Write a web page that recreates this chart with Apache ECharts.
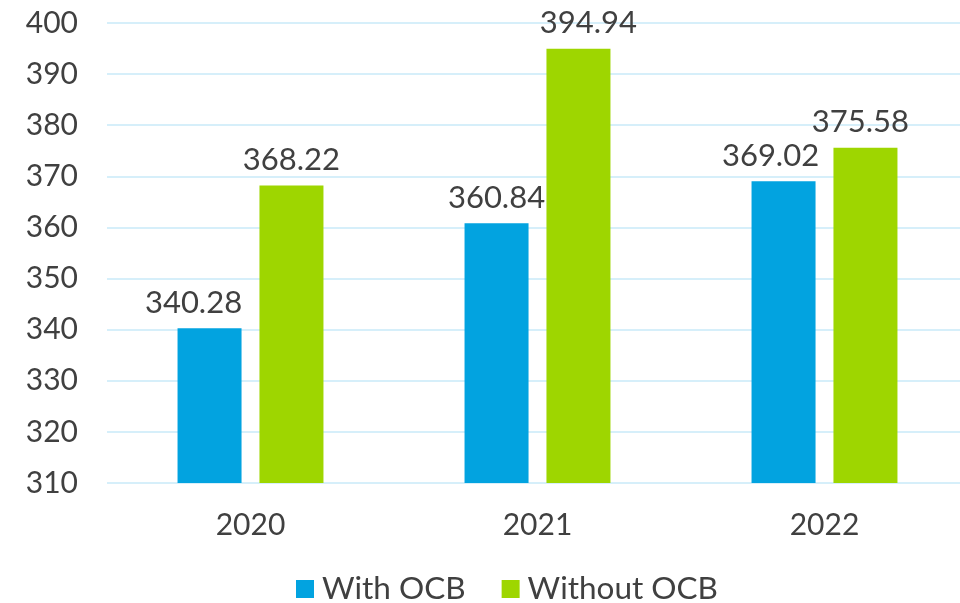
<!DOCTYPE html>
<html>
<head>
<meta charset="utf-8">
<script src="https://cdn.jsdelivr.net/npm/echarts@6/dist/echarts.min.js"></script>
<style>
  html, body { margin: 0; padding: 0; background: #fff; }
  #chart { width: 960px; height: 603px; }
</style>
</head>
<body>
<div id="chart"></div>
<script>
// data
var years = ['2020', '2021', '2022'];
var withOcb = [340.28, 360.84, 369.02];
var withoutOcb = [368.22, 394.94, 375.58];
var seriesNames = ['With OCB', 'Without OCB'];

// horizontal nudge of the value labels (px), as placed in the original
var nudgeWith = [-16, 0, -13];
var nudgeWithout = [0, 10, -5];

var textColor = '#404040';
var font = 'Lato';

var chart = echarts.init(document.getElementById('chart'));

function labelOpt() {
  return {
    show: true,
    position: 'top',
    distance: 10,
    color: textColor,
    fontFamily: font,
    fontSize: 31,
    formatter: function (p) { return p.value.toFixed(2); }
  };
}

function withNudge(values, nudge) {
  return values.map(function (v, i) {
    return { value: v, label: { offset: [nudge[i], 0] } };
  });
}

var option = {
  animation: false,
  textStyle: { fontFamily: font },
  // plot runs past the right edge in the original
  grid: { left: 107, top: 23, right: -8, bottom: 120, containLabel: false, outerBoundsMode: 'none' },
  legend: {
    data: seriesNames,
    bottom: -7,
    left: 291,
    itemWidth: 18,
    itemHeight: 18,
    itemGap: 36,
    icon: 'rect',
    textStyle: { color: textColor, fontSize: 31.5, fontFamily: font, padding: [0, 0, 0, 3] }
  },
  xAxis: {
    type: 'category',
    data: years,
    axisLine: { show: false },
    axisTick: { show: false },
    axisLabel: { color: textColor, fontSize: 30, fontFamily: font, margin: 27 }
  },
  yAxis: {
    type: 'value',
    min: 310,
    max: 400,
    interval: 10,
    axisLine: { show: false },
    axisTick: { show: false },
    splitLine: { lineStyle: { color: '#d6effa', width: 2 } },
    axisLabel: { color: textColor, fontSize: 30, fontFamily: font, margin: 29 }
  },
  series: [
    {
      name: seriesNames[0],
      type: 'bar',
      data: withNudge(withOcb, nudgeWith),
      barWidth: 64,
      barGap: '28%',
      itemStyle: { color: '#02a3e0' },
      label: labelOpt()
    },
    {
      name: seriesNames[1],
      type: 'bar',
      data: withNudge(withoutOcb, nudgeWithout),
      barWidth: 64,
      itemStyle: { color: '#9ed600' },
      label: labelOpt()
    }
  ]
};

chart.setOption(option);
</script>
</body>
</html>
